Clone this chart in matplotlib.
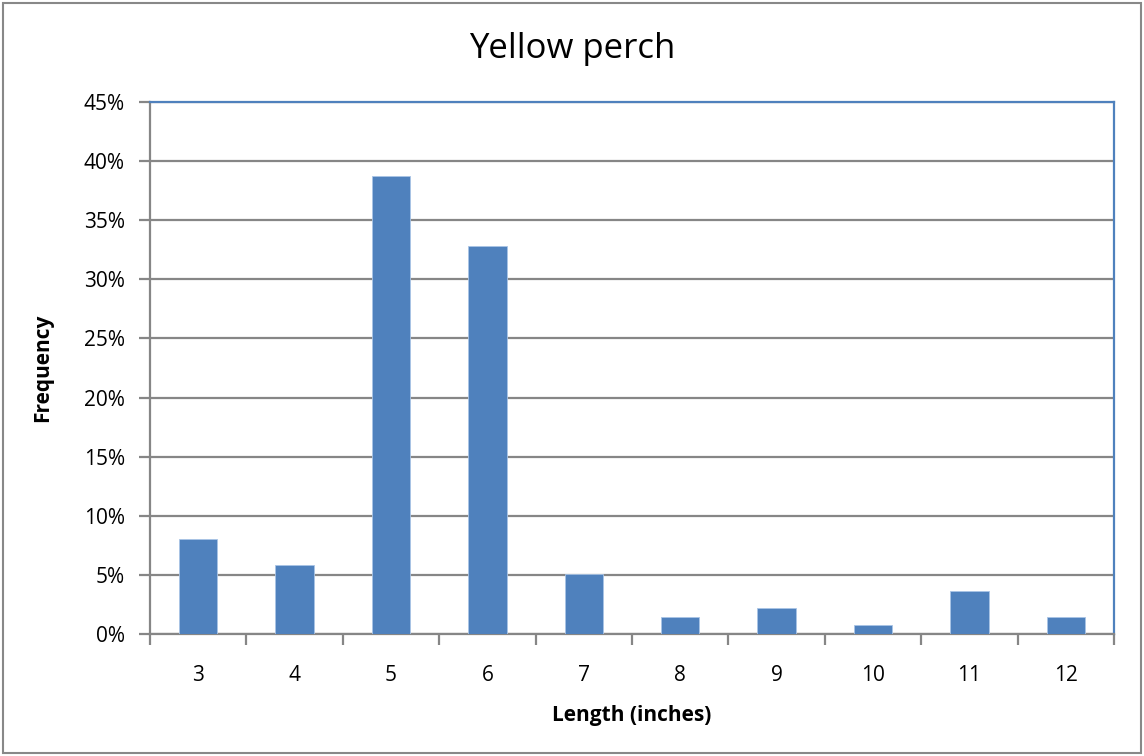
import matplotlib.pyplot as plt
from matplotlib.patches import Rectangle
from matplotlib.ticker import FuncFormatter, FixedLocator

# Yellow perch length-frequency data
lengths = ["3", "4", "5", "6", "7", "8", "9", "10", "11", "12"]
freq_pct = [8.0, 5.8, 38.7, 32.8, 5.1, 1.46, 2.19, 0.73, 3.65, 1.46]

plt.rcParams['font.family'] = ['Liberation Sans Narrow', 'Open Sans', 'DejaVu Sans']

W, H = 1144, 756
fig = plt.figure(figsize=(W / 100, H / 100), dpi=100)
ax = fig.add_axes([150 / W, 1 - 634 / H, (1114 - 150) / W, (634 - 102) / H])

bar_color = "#4F81BD"
grid_color = "#868686"

x = range(len(lengths))
ax.bar(x, freq_pct, width=0.4, color=bar_color, edgecolor="#A9C4E6", linewidth=0.6, zorder=3)

ax.set_xlim(-0.5, len(lengths) - 0.5)
ax.set_ylim(0, 45)
ax.set_yticks(range(0, 46, 5))
ax.yaxis.set_major_formatter(FuncFormatter(lambda v, p: f"{int(v)}%"))
ax.yaxis.grid(True, color=grid_color, linewidth=1.6, zorder=0)

ax.set_xticks(list(x))
ax.set_xticklabels(lengths)
ax.xaxis.set_minor_locator(FixedLocator([i - 0.5 for i in range(len(lengths) + 1)]))
ax.tick_params(axis="x", which="major", length=0, pad=22, labelsize=15)
ax.tick_params(axis="x", which="minor", length=8, width=1.6, color=grid_color, direction="out")
ax.tick_params(axis="y", length=8, width=1.6, color=grid_color, direction="out", labelsize=15, pad=10)

for side in ["left", "bottom"]:
    ax.spines[side].set_color(grid_color)
    ax.spines[side].set_linewidth(1.6)
for side in ["top", "right"]:
    ax.spines[side].set_color("#4F81BD")
    ax.spines[side].set_linewidth(1.6)

ax.set_xlabel("Length (inches)", fontsize=15, fontweight="bold", labelpad=14)
ax.set_ylabel("Frequency", fontsize=15, fontweight="bold", labelpad=22)
fig.text(0.5, 1 - 49 / H, "Yellow perch", ha="center", va="center", fontsize=25)

fig.patches.append(Rectangle((3 / W, 3 / H), 1 - 6 / W, 1 - 6 / H, transform=fig.transFigure,
                             fill=False, edgecolor="#888888", linewidth=1.5))

fig.savefig("out.png", dpi=100)
